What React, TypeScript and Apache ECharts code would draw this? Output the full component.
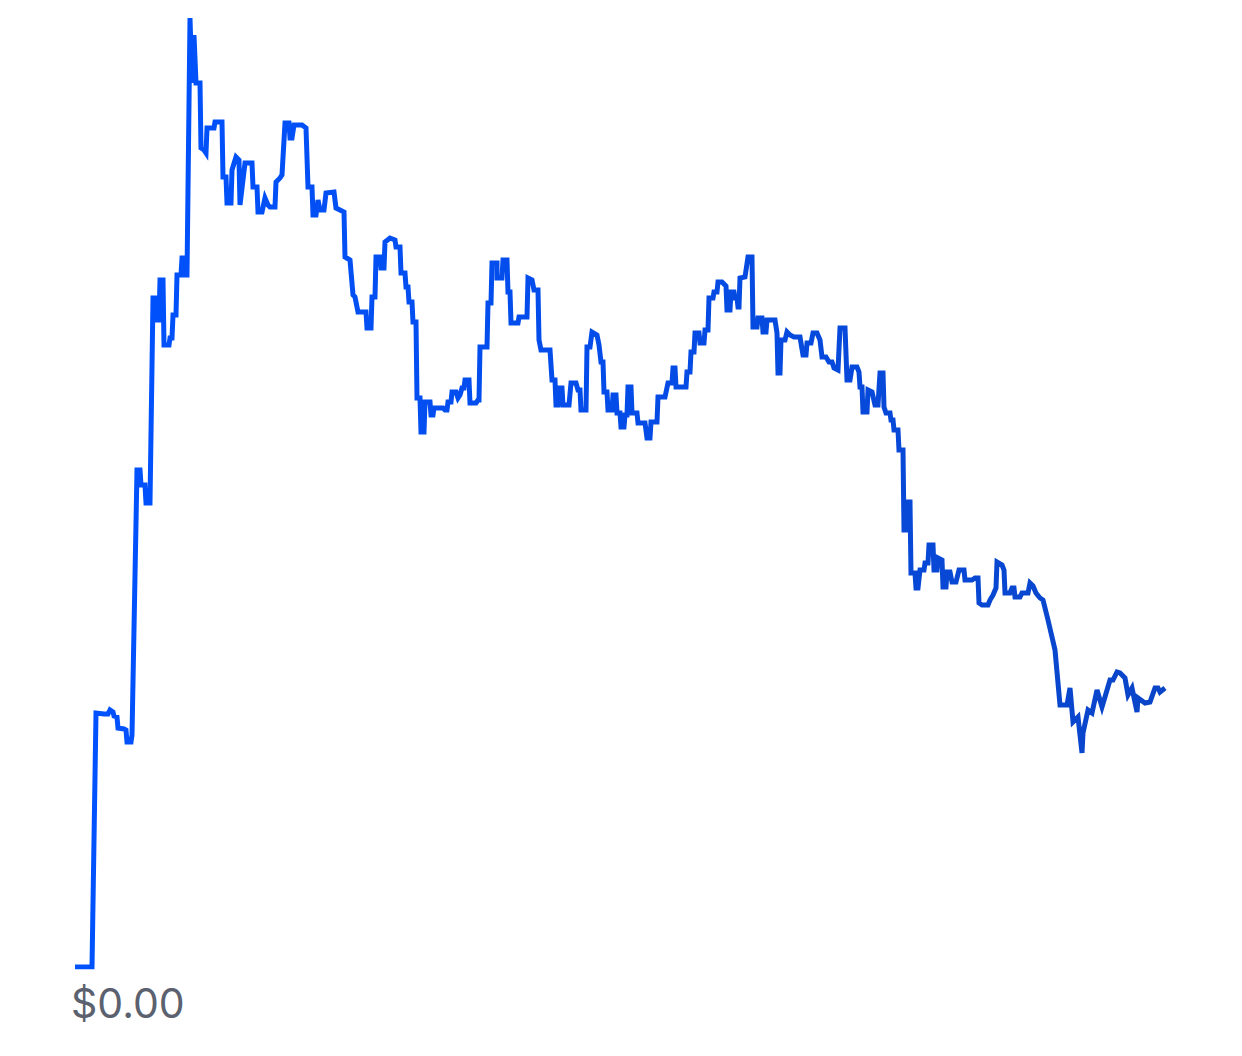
import React, { useEffect, useRef } from "react";
import * as echarts from "echarts";

// time index
const days: number[] = [
  0, 17, 21, 29, 33, 35, 38, 39, 42, 43, 49, 51, 52, 56, 57, 62, 65, 66, 70, 71, 75, 78, 81, 82, 84, 85, 88, 89, 94, 95, 97, 98, 101, 102, 106, 107, 109, 110, 112, 115, 117, 119, 121, 125, 126, 129, 131, 132, 139, 140, 147, 148, 151, 152, 156, 157, 161, 164, 165, 170, 177, 178, 182, 183, 187, 190, 193, 195, 200, 201, 205, 207, 210, 214, 215, 217, 219, 227, 231, 233, 237, 238, 241, 243, 245, 249, 251, 259, 261, 269, 270, 275, 278, 280, 283, 291, 292, 296, 297, 300, 301, 305, 306, 309, 310, 315, 320, 321, 325, 326, 330, 331, 333, 334, 337, 338, 341, 342, 345, 346, 349, 350, 355, 356, 358, 359, 368, 370, 372, 373, 376, 377, 381, 383, 385, 387, 389, 390, 394, 395, 401, 403, 404, 405, 412, 413, 416, 417, 422, 422, 427, 428, 432, 433, 435, 436, 443, 444, 452, 453, 457, 459, 463, 464, 466, 475, 477, 480, 481, 483, 484, 487, 488, 494, 496, 501, 503, 505, 506, 511, 512, 515, 517, 522, 524, 526, 528, 529, 532, 533, 537, 538, 541, 542, 545, 546, 549, 550, 552, 553, 556, 557, 562, 563, 570, 572, 575, 576, 582, 583, 590, 593, 597, 598, 600, 601, 611, 612, 615, 616, 619, 620, 624, 625, 629, 630, 633, 634, 638, 639, 642, 643, 647, 651, 652, 655, 656, 659, 660, 662, 663, 664, 665, 670, 673, 677, 678, 682, 683, 687, 688, 691, 692, 700, 702, 703, 705, 706, 710, 712, 715, 719, 725, 728, 731, 732, 736, 738, 742, 745, 747, 751, 754, 757, 759, 763, 765, 770, 772, 775, 777, 782, 784, 785, 787, 788, 792, 793, 797, 800, 803, 805, 808, 809, 811, 815, 816, 818, 819, 823, 824, 828, 829, 831, 832, 835, 836, 840, 841, 843, 845, 849, 850, 853, 854, 858, 859, 862, 863, 867, 868, 871, 872, 875, 877, 881, 884, 889, 890, 897, 900, 903, 904, 907, 913, 915, 918, 921, 922, 927, 929, 930, 935, 937, 939, 940, 945, 947, 953, 955, 958, 961, 965, 968, 973, 980, 985, 992, 995, 998, 1003, 1007, 1008, 1013, 1017, 1022, 1027, 1035, 1038, 1042, 1045, 1050, 1053, 1057, 1062, 1063, 1070, 1075, 1080, 1083, 1085, 1090,
];

// price (arbitrary units)
const prices: number[] = [
  0, 0, 254, 253, 253, 257, 255, 251, 250, 239, 238, 237, 225, 225, 232, 497, 497, 482, 482, 464, 464, 669, 669, 647, 647, 687, 687, 622, 622, 629, 629, 652, 652, 692, 692, 709, 709, 692, 692, 949, 884, 932, 884, 884, 819, 817, 814, 839, 839, 845, 845, 790, 790, 764, 764, 797, 810, 807, 762, 804, 804, 780, 780, 755, 755, 769, 762, 760, 760, 785, 789, 792, 844, 844, 829, 829, 842, 842, 839, 780, 780, 752, 752, 767, 757, 757, 774, 775, 759, 755, 710, 707, 672, 670, 655, 655, 639, 639, 670, 670, 710, 710, 699, 699, 725, 729, 727, 720, 720, 694, 694, 680, 680, 665, 665, 645, 645, 569, 569, 535, 535, 565, 565, 552, 552, 559, 559, 557, 557, 565, 565, 575, 575, 569, 572, 579, 579, 587, 587, 564, 564, 567, 567, 620, 620, 664, 664, 704, 704, 689, 689, 707, 707, 675, 675, 644, 644, 650, 650, 689, 687, 677, 677, 627, 617, 617, 587, 587, 562, 562, 579, 579, 562, 562, 584, 584, 577, 577, 557, 557, 620, 620, 635, 632, 622, 605, 605, 575, 575, 557, 557, 572, 572, 554, 554, 540, 540, 552, 552, 580, 580, 554, 554, 544, 544, 529, 529, 545, 545, 570, 570, 584, 584, 599, 599, 580, 580, 595, 595, 615, 615, 634, 634, 624, 624, 637, 637, 669, 669, 675, 675, 685, 685, 681, 657, 657, 675, 675, 669, 669, 660, 660, 689, 690, 710, 710, 640, 640, 649, 649, 635, 635, 647, 647, 634, 594, 594, 627, 627, 635, 632, 630, 630, 612, 612, 624, 624, 634, 634, 627, 610, 610, 605, 605, 599, 597, 639, 639, 587, 587, 600, 600, 595, 580, 580, 555, 555, 577, 575, 562, 562, 594, 594, 560, 554, 554, 547, 547, 537, 537, 517, 517, 437, 437, 465, 465, 394, 394, 379, 379, 397, 397, 404, 404, 422, 422, 397, 397, 409, 407, 380, 380, 395, 395, 385, 385, 397, 397, 387, 387, 389, 389, 364, 362, 362, 367, 372, 379, 405, 402, 397, 374, 374, 379, 379, 370, 370, 374, 374, 384, 381, 374, 369, 367, 347, 317, 262, 262, 279, 245, 250, 214, 234, 257, 254, 277, 260, 287, 287, 295, 294, 289, 272, 279, 255, 269, 264, 265, 279, 279, 275, 279,
];

const yTickLabels: string[] = ["$0.00"];

export default function App() {
  const ref = useRef<HTMLDivElement>(null);
  useEffect(() => {
    if (!ref.current) return;
    const chart = echarts.init(ref.current, undefined, { renderer: "svg" });
    const data = days.map((d, i) => [d, prices[i]]);
    chart.setOption({
      animation: false,
      backgroundColor: "#ffffff",
      grid: { left: 75, right: 77, top: 18, bottom: 89 },
      xAxis: {
        type: "value",
        min: 0,
        max: 1090,
        show: false,
      },
      yAxis: {
        type: "value",
        min: 0,
        max: 949,
        show: false,
      },
      graphic: [
        {
          type: "text",
          left: 71,
          top: 982,
          style: {
            text: yTickLabels[0],
            font: '41px "Inter", "Roboto", sans-serif',
            fill: "#5b616e",
          },
        },
      ],
      series: [
        {
          type: "line",
          data,
          showSymbol: false,
          symbol: "none",
          lineStyle: {
            width: 5,
            join: "miter",
            miterLimit: 4,
            color: new echarts.graphic.LinearGradient(0, 0, 1, 0, [
              { offset: 0, color: "#0052ff" },
              { offset: 0.5, color: "#044ce8" },
              { offset: 1, color: "#0a45c8" },
            ]),
          },
        },
      ],
    });
    return () => chart.dispose();
  }, []);
  return (
    <div
      ref={ref}
      style={{ position: "absolute", left: 0, top: 0, width: 1242, height: 1056 }}
    />
  );
}
